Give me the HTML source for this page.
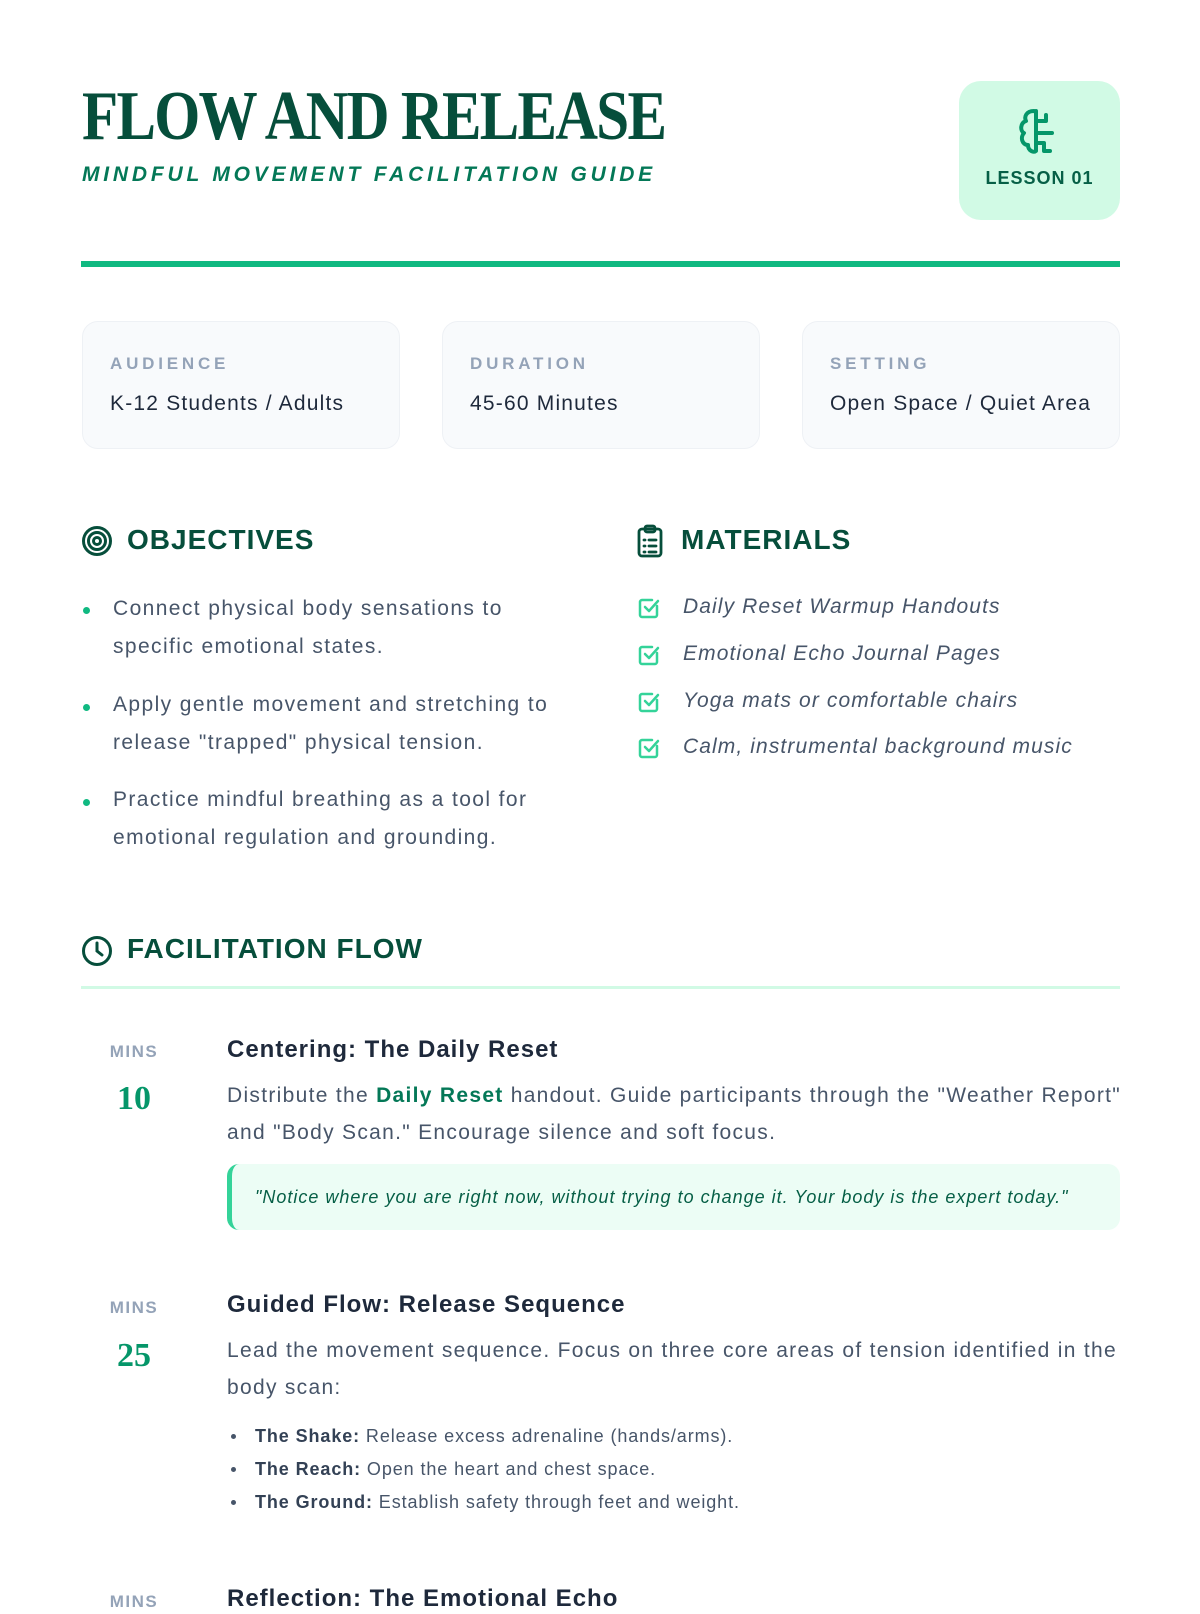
<!DOCTYPE html>
<html><head><meta charset="utf-8">
<style>
*{margin:0;padding:0;box-sizing:border-box}
body{width:1200px;height:1600px;background:#fff;font-family:"Liberation Sans",sans-serif;position:relative;overflow:hidden}
.a{position:absolute;white-space:nowrap}
.title{left:82px;top:82px;font-family:"Liberation Serif",serif;font-weight:bold;font-size:70px;line-height:70px;color:#064e3b;letter-spacing:-2px;transform:scaleX(0.845);transform-origin:left}
.sub{left:82px;top:162px;font-size:21px;line-height:26px;font-weight:bold;font-style:italic;color:#047857;letter-spacing:3.8px}
.badge{left:959px;top:81px;width:161px;height:139px;background:#d1fae5;border-radius:22px}
.badge .t{position:absolute;left:0;right:0;top:87px;text-align:center;font-weight:bold;font-size:18px;color:#065f46;letter-spacing:1px}
.rule{left:81px;top:261px;width:1039px;height:6px;background:#10b981}
.card{top:321px;height:128px;width:318px;background:#f8fafc;border:1px solid #eef1f5;border-radius:16px}
.card .l{position:absolute;left:27px;top:32px;font-size:17px;font-weight:bold;letter-spacing:3.8px;color:#94a3b8}
.card .v{position:absolute;left:27px;top:70px;font-size:21px;color:#1e293b;letter-spacing:1.2px}
.h{font-size:28px;font-weight:bold;color:#064e3b;line-height:34px;letter-spacing:1px}
.li{font-size:21px;color:#475569;line-height:38px;letter-spacing:1.4px}
.dot{width:7px;height:7px;border-radius:50%;background:#10b981}
.mi{font-size:21px;font-style:italic;color:#475569;line-height:30px;letter-spacing:1.1px}
.mins{font-size:17px;font-weight:bold;color:#94a3b8;width:60px;text-align:center;left:104px;letter-spacing:1.5px}
.num{font-family:"Liberation Serif",serif;font-weight:bold;font-size:34px;color:#059669;width:60px;text-align:center;left:104px}
.st{font-size:24px;font-weight:bold;color:#1e293b;line-height:30px;left:227px;letter-spacing:1px}
.tx{font-size:21px;color:#475569;line-height:37px;left:227px;letter-spacing:1.3px}
.b{font-size:18px;color:#475569;line-height:24px;left:255px;letter-spacing:0.9px}
.b b{color:#334155}
.bd{left:231px;width:5px;height:5px;border-radius:50%;background:#475569}
</style></head><body>
<div class="a title">FLOW AND RELEASE</div>
<div class="a sub">MINDFUL MOVEMENT FACILITATION GUIDE</div>
<div class="a badge">
<svg style="position:absolute;left:55px;top:26px" width="50" height="52" viewBox="0 0 50 52" fill="none" stroke="#059669" stroke-width="4" stroke-linecap="round" stroke-linejoin="round">
<path d="M20 4 C12 4 10 10 12 14 C6 16 6 24 10 26 C6 30 8 38 14 38 C14 44 20 46 22 44 L22 4"/>
<path d="M22 14 H32 M32 14 V8 M22 26 H38 M22 36 H30 V44 H36"/>
</svg>
<div class="t">LESSON 01</div></div>
<div class="a rule"></div>

<div class="a card" style="left:82px"><div class="l">AUDIENCE</div><div class="v">K-12 Students / Adults</div></div>
<div class="a card" style="left:442px"><div class="l">DURATION</div><div class="v">45-60 Minutes</div></div>
<div class="a card" style="left:802px"><div class="l">SETTING</div><div class="v">Open Space / Quiet Area</div></div>

<svg class="a" style="left:81px;top:525px" width="32" height="32" viewBox="0 0 32 32" fill="none" stroke="#064e3b" stroke-width="3"><circle cx="16" cy="16" r="13.5"/><circle cx="16" cy="16" r="8.5"/><circle cx="16" cy="16" r="3.5"/></svg>
<div class="a h" style="left:127px;top:523px">OBJECTIVES</div>
<div class="a dot" style="left:83px;top:607px"></div>
<div class="a li" style="left:113px;top:590px">Connect physical body sensations to<br>specific emotional states.</div>
<div class="a dot" style="left:83px;top:704px"></div>
<div class="a li" style="left:113px;top:686px">Apply gentle movement and stretching to<br>release "trapped" physical tension.</div>
<div class="a dot" style="left:83px;top:799px"></div>
<div class="a li" style="left:113px;top:781px">Practice mindful breathing as a tool for<br>emotional regulation and grounding.</div>

<svg class="a" style="left:637px;top:524px" width="26" height="34" viewBox="0 0 26 34" fill="none" stroke="#064e3b" stroke-width="2.8" stroke-linecap="round"><rect x="2" y="5" width="22" height="27" rx="3"/><rect x="8" y="2" width="10" height="6" rx="2"/><path d="M7 16h1M12 16h7M7 22h1M12 22h7M7 28h1M12 28h7"/></svg>
<div class="a h" style="left:681px;top:523px">MATERIALS</div>
<svg width="0" height="0" style="position:absolute"><defs><g id="ck" fill="none" stroke="#34d399" stroke-width="2.5" stroke-linecap="round" stroke-linejoin="round"><path d="M20 10 V19 a2 2 0 0 1 -2 2 H5 a2 2 0 0 1 -2 -2 V6 a2 2 0 0 1 2 -2 H15"/><path d="M8 11 l4 4 l9 -10"/></g></defs></svg>
<svg class="a" style="left:637px;top:596px" width="24" height="24"><use href="#ck"/></svg>
<svg class="a" style="left:637px;top:643px" width="24" height="24"><use href="#ck"/></svg>
<svg class="a" style="left:637px;top:690px" width="24" height="24"><use href="#ck"/></svg>
<svg class="a" style="left:637px;top:736px" width="24" height="24"><use href="#ck"/></svg>
<div class="a mi" style="left:683px;top:592px">Daily Reset Warmup Handouts</div>
<div class="a mi" style="left:683px;top:639px">Emotional Echo Journal Pages</div>
<div class="a mi" style="left:683px;top:686px">Yoga mats or comfortable chairs</div>
<div class="a mi" style="left:683px;top:732px">Calm, instrumental background music</div>

<svg class="a" style="left:81px;top:935px" width="32" height="32" viewBox="0 0 32 32" fill="none" stroke="#064e3b" stroke-width="3" stroke-linecap="round"><circle cx="16" cy="16" r="13.5"/><path d="M16 8v8l5 4"/></svg>
<div class="a h" style="left:127px;top:932px">FACILITATION FLOW</div>
<div class="a" style="left:81px;top:986px;width:1039px;height:3px;background:#d1fae5"></div>

<div class="a mins" style="top:1042px">MINS</div>
<div class="a num" style="top:1080px">10</div>
<div class="a st" style="top:1035px">Centering: The Daily Reset</div>
<div class="a tx" style="top:1077px">Distribute the <b style="color:#047857">Daily Reset</b> handout. Guide participants through the "Weather Report"<br>and "Body Scan." Encourage silence and soft focus.</div>
<div class="a" style="left:227px;top:1164px;width:893px;height:66px;background:#ecfdf5;border-left:5px solid #34d399;border-radius:12px"></div>
<div class="a" style="left:255px;top:1187px;font-size:18px;font-style:italic;color:#065f46;letter-spacing:1px">"Notice where you are right now, without trying to change it. Your body is the expert today."</div>

<div class="a mins" style="top:1298px">MINS</div>
<div class="a num" style="top:1337px">25</div>
<div class="a st" style="top:1290px">Guided Flow: Release Sequence</div>
<div class="a tx" style="top:1332px">Lead the movement sequence. Focus on three core areas of tension identified in the<br>body scan:</div>
<div class="a bd" style="top:1434px"></div><div class="a b" style="top:1424px"><b>The Shake:</b> Release excess adrenaline (hands/arms).</div>
<div class="a bd" style="top:1467px"></div><div class="a b" style="top:1457px"><b>The Reach:</b> Open the heart and chest space.</div>
<div class="a bd" style="top:1500px"></div><div class="a b" style="top:1490px"><b>The Ground:</b> Establish safety through feet and weight.</div>

<div class="a mins" style="top:1592px">MINS</div>
<div class="a st" style="top:1584px">Reflection: The Emotional Echo</div>
</body></html>
